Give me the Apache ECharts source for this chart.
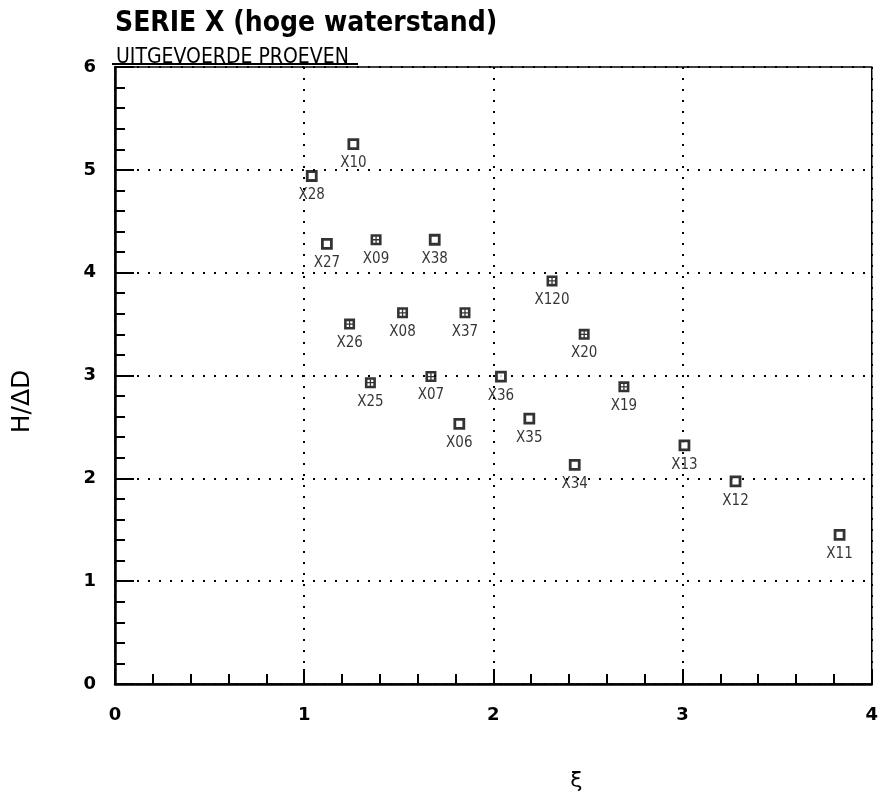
<!DOCTYPE html>
<html>
<head>
<meta charset="utf-8">
<script src="https://cdn.jsdelivr.net/npm/echarts@6/dist/echarts.min.js"></script>
<style>
    html, body { margin: 0; padding: 0; background: #fff; }
    #chart { width: 881px; height: 797px; }
</style>
</head>
<body>
<div id="chart"></div>
<script>
// Serie X (hoge waterstand) - uitgevoerde proeven
const openNames = ['X10', 'X28', 'X27', 'X38', 'X36', 'X06', 'X35', 'X34', 'X13', 'X12', 'X11'];
const openXi    = [1.26, 1.04, 1.12, 1.69, 2.04, 1.82, 2.19, 2.43, 3.01, 3.28, 3.83];
const openH     = [5.25, 4.94, 4.28, 4.32, 2.99, 2.53, 2.58, 2.13, 2.32, 1.97, 1.45];

const crossNames = ['X09', 'X26', 'X08', 'X37', 'X120', 'X20', 'X25', 'X07', 'X19'];
const crossXi    = [1.38, 1.24, 1.52, 1.85, 2.31, 2.48, 1.35, 1.67, 2.69];
const crossH     = [4.32, 3.50, 3.61, 3.61, 3.92, 3.40, 2.93, 2.99, 2.89];

const xTicks = ['0', '1', '2', '3', '4'];
const yTicks = ['0', '1', '2', '3', '4', '5', '6'];

const FONT = "'DejaVu Sans', sans-serif";
const COND = "'DejaVu Sans Condensed', 'Liberation Sans Narrow', sans-serif";
const NARROW = "'Liberation Sans Narrow', 'DejaVu Sans Condensed', sans-serif";

// vierkantje met kruis (4 gaatjes)
const crossBox = 'path://M0,0 L12,0 L12,12 L0,12 Z ' +
    'M2.8,2.8 L2.8,5.3 L5.3,5.3 L5.3,2.8 Z M6.7,2.8 L6.7,5.3 L9.2,5.3 L9.2,2.8 Z ' +
    'M2.8,6.7 L2.8,9.2 L5.3,9.2 L5.3,6.7 Z M6.7,6.7 L6.7,9.2 L9.2,9.2 L9.2,6.7 Z';

function pts(xs, ys, names) {
    return xs.map((x, i) => ({ name: names[i], value: [x, ys[i]] }));
}

const pointLabel = {
    show: true,
    position: 'bottom',
    distance: 6,
    formatter: p => p.name,
    color: '#000',
    fontFamily: NARROW,
    fontSize: 15
};

const chart = echarts.init(document.getElementById('chart'), null, { renderer: 'canvas' });

chart.setOption({
    backgroundColor: '#fff',
    animation: false,
    title: [
        {
            text: 'SERIE X (hoge waterstand)',
            left: 110, top: 5,
            textStyle: { fontFamily: COND, fontWeight: 'bold', fontSize: 28, color: '#000' }
        },
        {
            text: 'UITGEVOERDE PROEVEN',
            left: 111, top: 42,
            textStyle: { fontFamily: COND, fontWeight: 'normal', fontSize: 21, color: '#000' }
        }
    ],
    graphic: [
        { type: 'line', shape: { x1: 112, y1: 64, x2: 358, y2: 64 }, style: { stroke: '#000', lineWidth: 2 } }
    ],
    grid: {
        left: 115, right: 4, top: 67, bottom: 105,
        show: true, borderColor: '#000', borderWidth: 1.5, backgroundColor: 'transparent'
    },
    xAxis: {
        type: 'value', min: 0, max: 4, interval: 1,
        name: 'ξ', nameLocation: 'middle', nameGap: 86,
        nameTextStyle: { fontFamily: FONT, fontSize: 22, color: '#000', padding: [0, 0, 0, 166] },
        axisLine: { show: true, lineStyle: { color: '#000', width: 2.5 } },
        axisTick: { show: true, inside: true, length: 15, lineStyle: { color: '#000', width: 2 } },
        minorTick: { show: true, splitNumber: 5, length: 10, lineStyle: { color: '#000', width: 2 } },
        axisLabel: {
            margin: 22, color: '#000', fontFamily: FONT, fontWeight: 'bold', fontSize: 18,
            formatter: v => xTicks[Math.round(v)]
        },
        splitLine: { show: true, lineStyle: { color: '#000', width: 2, type: [2, 9] } }
    },
    yAxis: {
        type: 'value', min: 0, max: 6, interval: 1,
        name: 'H/ΔD', nameLocation: 'middle', nameGap: 80, nameRotate: 90,
        nameTextStyle: { fontFamily: FONT, fontSize: 25, color: '#000', padding: [0, 52, 0, 0] },
        axisLine: { show: true, lineStyle: { color: '#000', width: 2.5 } },
        axisTick: { show: true, inside: true, length: 19, lineStyle: { color: '#000', width: 2 } },
        minorTick: { show: true, splitNumber: 5, length: 10, lineStyle: { color: '#000', width: 2 } },
        axisLabel: {
            margin: 19, color: '#000', fontFamily: FONT, fontWeight: 'bold', fontSize: 18,
            formatter: v => yTicks[Math.round(v)]
        },
        splitLine: { show: true, lineStyle: { color: '#000', width: 2, type: [2, 9] } }
    },
    series: [
        {
            name: 'open', type: 'scatter',
            symbol: 'rect', symbolSize: 9,
            itemStyle: { color: '#fff', borderColor: '#000', borderWidth: 2.8 },
            label: pointLabel,
            data: pts(openXi, openH, openNames)
        },
        {
            name: 'kruis', type: 'scatter',
            symbol: crossBox, symbolSize: 11,
            itemStyle: { color: '#000' },
            label: pointLabel,
            data: pts(crossXi, crossH, crossNames)
        }
    ]
});
</script>
</body>
</html>
